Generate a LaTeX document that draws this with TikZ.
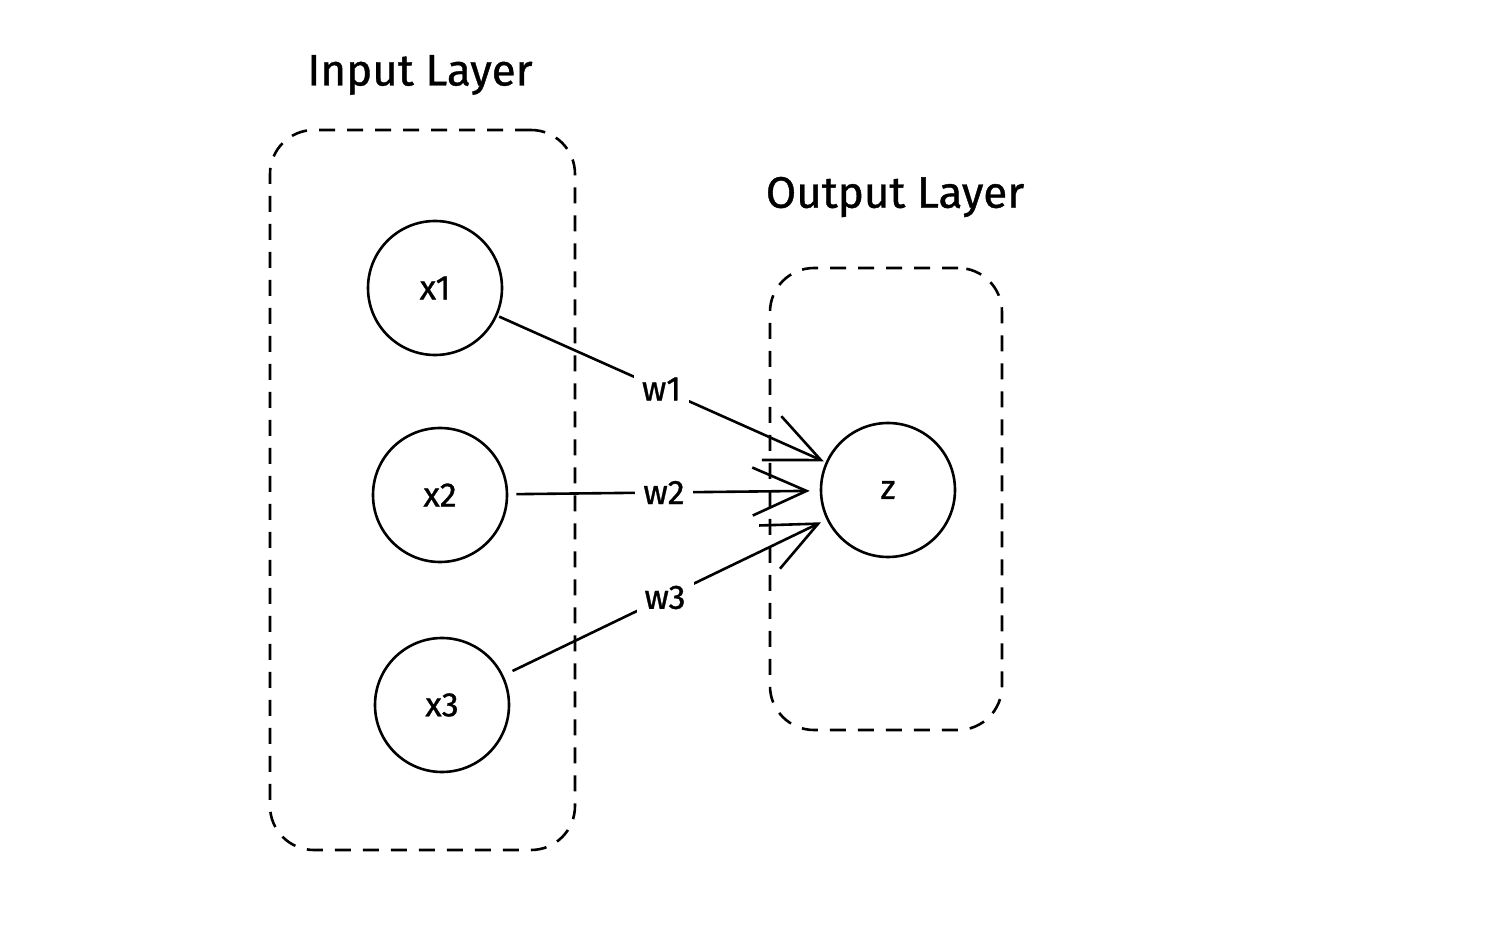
\documentclass[tikz,border=0pt]{standalone}
\usepackage{fontspec}
\setmainfont{Fira Sans}[UprightFeatures={FakeBold=0.9}]
\usetikzlibrary{arrows.meta}
\begin{document}
\begin{tikzpicture}[x=0.5pt,y=-0.5pt,
  layerbox/.style={draw, line width=1.3pt, dash pattern=on 8pt off 6pt,
    rounded corners=22pt, inner sep=0pt},
  neuron/.style={draw, circle, line width=1.3pt, minimum size=67pt,
    inner sep=0pt, font=\fontsize{17}{20}\selectfont},
  title/.style={font=\fontsize{22}{26}\selectfont},
  weight/.style={fill=white, inner sep=4pt, font=\fontsize{17}{20}\selectfont},
  link/.style={line width=1.3pt,
    -{Straight Barb[length=27pt, width=24pt, line width=1.3pt]}}
]
\useasboundingbox (0,0) rectangle (1490,930);

% layer frames
\node[layerbox, minimum width=152.5pt, minimum height=360pt] (inbox) at (422.5,490) {};
\node[layerbox, minimum width=116pt, minimum height=231pt] (outbox) at (886,499) {};

% layer titles
\node[title] (intitle) at (420,75) {Input Layer};
\node[title] (outtitle) at (895,197) {Output Layer};

% neurons
\node[neuron] (x1) at (435,288) {x1};
\node[neuron] (x2) at (440,495) {x2};
\node[neuron] (x3) at (442,705) {x3};
\node[neuron] (z) at (888,490) {z};

% weighted connections
\draw[link, shorten <=1pt, shorten >=1pt] (x1) -- node[weight] (w1) {w1} (z);
\draw[link, shorten <=4pt, shorten >=5pt] (x2) -- node[weight] (w2) {w2} (z);
\draw[link, shorten <=5pt, shorten >=3pt] (x3) -- node[weight] (w3) {w3} (z);
\end{tikzpicture}
\end{document}
